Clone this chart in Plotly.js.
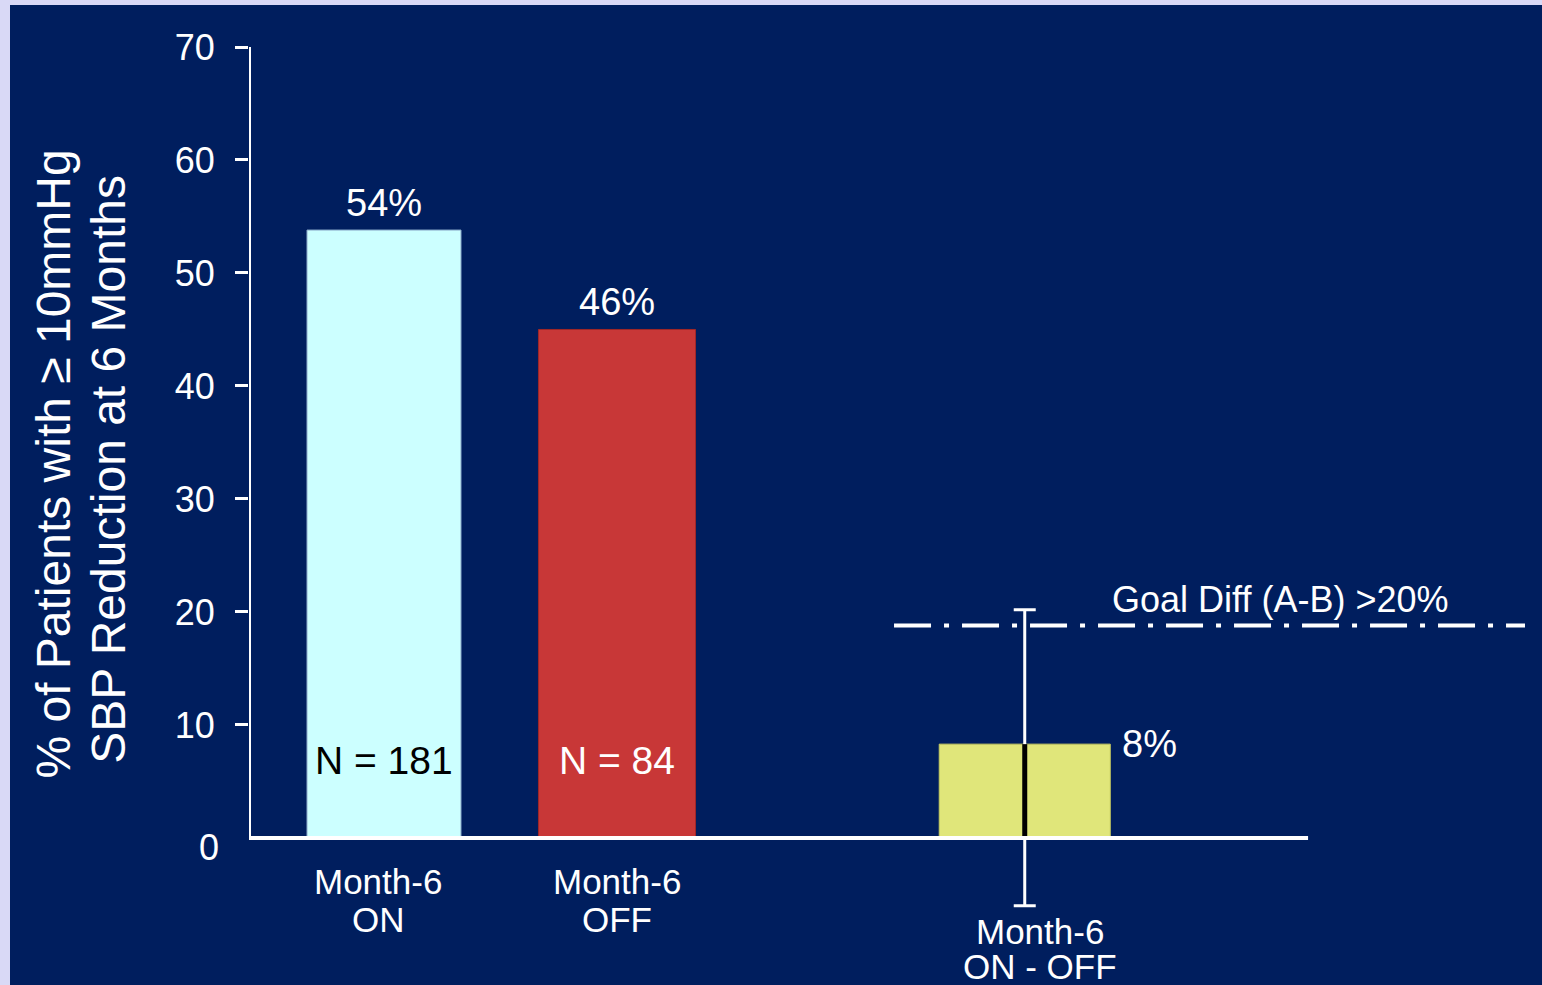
<!DOCTYPE html>
<html>
<head>
<meta charset="utf-8">
<script src="https://cdn.plot.ly/plotly-3.0.1.min.js"></script>
<style>
  html, body { margin: 0; padding: 0; background: #d9d9f6; width: 1542px; height: 985px; overflow: hidden; }
  #chart { position: absolute; left: 10px; top: 5px; width: 1532px; height: 980px; }
</style>
</head>
<body>
<div id="chart"></div>
<script>
// ---- data ----
const categories = ["Month-6 ON", "Month-6 OFF", "Month-6 ON - OFF"];
const catLine1 = ["Month-6", "Month-6", "Month-6"];
const catLine2 = ["ON", "OFF", "ON - OFF"];
const values = [53.8, 45.0, 8.3];
const valueLabels = ["54%", "46%", "8%"];
const nLabels = ["N = 181", "N = 84", ""];
const diffErrUpper = 20.2;
const diffErrLower = -6.0;
const goalValue = 18.8;
const goalLabel = "Goal Diff (A-B) >20%";
const yTickVals = [10, 20, 30, 40, 50, 60, 70];
const yTitleLine1 = "% of Patients with \u2265 10mmHg";
const yTitleLine2 = "SBP Reduction at 6 Months";

// ---- layout constants ----
const xPos = [1, 2, 3.75];
const barWidths = [0.661, 0.674, 0.734];
const barColors = ["#ccffff", "#c83737", "#e0e67a"];
const barLineColors = ["#8aa9c9", "#a02828", "#c8cc60"];
const navy = "#001e5e";
const FONT = "Liberation Sans, Arial, sans-serif";
const xRange = [0.4206, 5.9185];
const xAxisEnd = 4.966;
const goalX = [3.189, 5.897];

const traces = [
  {
    type: "bar", x: xPos, y: values, width: barWidths,
    marker: { color: barColors, line: { color: barLineColors, width: 1 } },
    hoverinfo: "skip", showlegend: false
  },
  {
    type: "scatter", mode: "lines", x: goalX, y: [goalValue, goalValue],
    line: { color: "white", width: 4, dash: "37px,13px,5px,13px" },
    hoverinfo: "skip", showlegend: false
  },
  {
    type: "scatter", mode: "markers", x: [xPos[2]], y: [values[2]],
    marker: { size: 1, opacity: 0 },
    error_y: {
      type: "data", symmetric: false,
      array: [diffErrUpper - values[2]], arrayminus: [values[2] - diffErrLower],
      color: "white", thickness: 3, width: 11
    },
    hoverinfo: "skip", showlegend: false
  },
  {
    type: "scatter", mode: "lines", x: [xPos[2], xPos[2]], y: [0, values[2]],
    line: { color: "black", width: 5 },
    hoverinfo: "skip", showlegend: false
  }
];

const annotations = [];
// value labels
for (let i = 0; i < 2; i++) {
  annotations.push({
    x: xPos[i], y: values[i], xref: "x", yref: "y", text: valueLabels[i],
    showarrow: false, xanchor: "center", yanchor: "bottom", yshift: 4,
    font: { family: FONT, size: 38, color: "white" }
  });
}
annotations.push({
  x: xPos[2] + barWidths[2] / 2, y: values[2], xref: "x", yref: "y", text: valueLabels[2],
  showarrow: false, xanchor: "left", yanchor: "middle", xshift: 10,
  font: { family: FONT, size: 38, color: "white" }
});
// N labels
const nColors = ["black", "white"];
for (let i = 0; i < 2; i++) {
  annotations.push({
    x: xPos[i], y: 0, xref: "x", yref: "y", text: nLabels[i],
    showarrow: false, xanchor: "center", yanchor: "middle", yshift: 77,
    font: { family: FONT, size: 39, color: nColors[i] }
  });
}
// goal label
annotations.push({
  x: 4.116, y: goalValue, xref: "x", yref: "y", text: goalLabel,
  showarrow: false, xanchor: "left", yanchor: "middle", yshift: 26,
  font: { family: FONT, size: 36, color: "white" }
});
// category labels (two lines each)
const catShift1 = [-44, -44, -94];
const catShift2 = [-82, -82, -129];
const catXShift = [-6, 0, 15];
for (let i = 0; i < 3; i++) {
  annotations.push({
    x: xPos[i], y: 0, xref: "x", yref: "y", text: catLine1[i],
    showarrow: false, xanchor: "center", yanchor: "middle", yshift: catShift1[i], xshift: catXShift[i],
    font: { family: FONT, size: 35, color: "white" }
  });
  annotations.push({
    x: xPos[i], y: 0, xref: "x", yref: "y", text: catLine2[i],
    showarrow: false, xanchor: "center", yanchor: "middle", yshift: catShift2[i], xshift: catXShift[i],
    font: { family: FONT, size: 35, color: "white" }
  });
}
// zero tick label
annotations.push({
  x: 0, y: 0, xref: "paper", yref: "y", text: "0",
  showarrow: false, xanchor: "right", yanchor: "middle", xshift: -28, yshift: -10,
  font: { family: FONT, size: 36, color: "white" }
});
// y title
annotations.push({
  x: 0, y: 0.520, xref: "paper", yref: "paper", text: yTitleLine1, textangle: -90,
  showarrow: false, xanchor: "center", yanchor: "middle", xshift: -195,
  font: { family: FONT, size: 48, color: "white" }
});
annotations.push({
  x: 0, y: 0.514, xref: "paper", yref: "paper", text: yTitleLine2, textangle: -90,
  showarrow: false, xanchor: "center", yanchor: "middle", xshift: -140,
  font: { family: FONT, size: 48, color: "white" }
});

const layout = {
  width: 1532, height: 980,
  paper_bgcolor: navy, plot_bgcolor: navy,
  margin: { l: 239, r: 12, t: 42, b: 68 },
  showlegend: false,
  bargap: 0,
  xaxis: {
    range: xRange, showgrid: false, zeroline: false, showline: false,
    showticklabels: false, ticks: "", fixedrange: true
  },
  yaxis: {
    range: [-7, 70], showgrid: false, zeroline: false, showline: false,
    tickmode: "array", tickvals: yTickVals, ticktext: yTickVals.map(String),
    ticks: "outside", ticklen: 13, tickwidth: 3, tickcolor: "white",
    ticklabelstandoff: 13,
    tickfont: { family: FONT, size: 36, color: "white" }, fixedrange: true
  },
  shapes: [
    { type: "line", xref: "x", yref: "y", x0: xRange[0], x1: xRange[0], y0: 0, y1: 70,
      line: { color: "white", width: 4 } },
    { type: "line", xref: "x", yref: "y", x0: xRange[0], x1: xAxisEnd, y0: 0, y1: 0,
      line: { color: "white", width: 4 } }
  ],
  annotations: annotations
};

Plotly.newPlot("chart", traces, layout, { displayModeBar: false, staticPlot: true });
</script>
</body>
</html>
